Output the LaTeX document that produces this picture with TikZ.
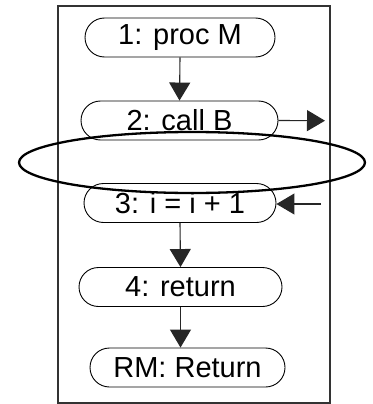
\documentclass[tikz,border=0pt]{standalone}
\usepackage{fontspec}
\setmainfont{Liberation Sans}
\usetikzlibrary{shapes.misc,shapes.geometric,arrows.meta}
\begin{document}
\begin{tikzpicture}[x=1pt,y=-1pt,
  stmt/.style={rounded rectangle, draw=black, line width=0.9pt, inner sep=0pt,
    minimum height=39pt, font=\fontsize{29}{30}\selectfont, fill=white},
  flow/.style={draw=black!85, line width=1.1pt,
    -{Triangle[width=21pt,length=18pt,fill=black!85]}},
  loopmark/.style={ellipse, draw=black, line width=2.3pt, inner sep=0pt}]
  \useasboundingbox (0,0) rectangle (372,404);
  % procedure frame
  \draw[line width=1.3pt, draw=black!80] (58,6) rectangle (330,403);
  % statements
  \node[stmt, minimum width=190pt] (n1) at (180,37.5) {1: proc M};
  \node[stmt, minimum width=197pt] (n2) at (179.5,120.5) {2: call B};
  \node[stmt, minimum width=192pt] (n3) at (180,203) {3: i = i + 1};
  \node[stmt, minimum width=203pt] (n4) at (180.5,287) {4: return};
  \node[stmt, minimum width=195pt] (rm) at (187.5,367.5) {RM: Return};
  % call/return edges leaving and entering the procedure
  \coordinate (callout) at (325,120.7);
  \coordinate (retin) at (321,204);
  \draw[flow] (n2.east) -- (callout);
  \draw[flow] (retin) -- (n3.east |- retin);
  \draw[flow] (n1.south) -- (n2.north);
  \draw[flow] (n3.south) -- (n4.north);
  \draw[flow] (n4.south) -- (n4.south |- rm.north);
  % ellipse across the call site
  \node[loopmark, minimum width=346pt, minimum height=61pt] (cut) at (192,162.5) {};
\end{tikzpicture}
\end{document}
